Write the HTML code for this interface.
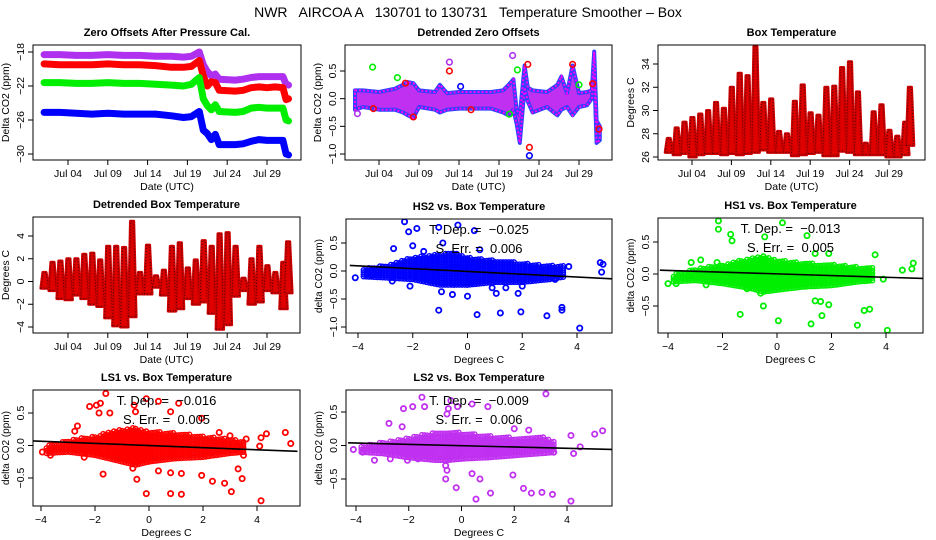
<!DOCTYPE html>
<html><head><meta charset="utf-8"><style>
html,body{margin:0;padding:0;background:#fff}
svg{display:block;font-family:"Liberation Sans",sans-serif}
text{white-space:pre}
</style></head><body>
<svg id="chart" width="936" height="540" viewBox="0 0 936 540" xmlns="http://www.w3.org/2000/svg" xml:space="preserve">
<rect width="936" height="540" fill="#fff"/>
<text x="468" y="17" text-anchor="middle" font-size="14">NWR   AIRCOA A   130701 to 130731   Temperature Smoother – Box</text>
</svg>
<script>
// ---------- DATA ----------
const timeTickDays = [4, 9, 14, 19, 24, 29];
const timeTickLabels = ["Jul 04", "Jul 09", "Jul 14", "Jul 19", "Jul 24", "Jul 29"];
const scatterTicks = [-4, -2, 0, 2, 4];
const scatterTickLabels = ["−4", "−2", "0", "2", "4"];

// Panel 1: zero offsets (day, value)
const zoDays   = [1, 3, 5, 7, 9, 11, 13, 15, 17, 18.5, 19.5, 20.5, 21, 21.5, 22, 22.5, 23, 25, 26, 27, 28, 29, 30, 31, 31.4, 31.7];
const zoPurple = [-18.3,-18.3,-18.4,-18.4,-18.3,-18.4,-18.4,-18.5,-18.5,-18.6,-18.5,-18.0,-19.5,-20.3,-20.8,-20.6,-21.2,-21.3,-21.2,-21.0,-20.9,-20.9,-20.9,-20.9,-21.8,-21.9];
const zoRed    = [-19.4,-19.5,-19.5,-19.5,-19.4,-19.5,-19.5,-19.6,-19.8,-19.8,-19.7,-19.0,-20.8,-22.0,-21.5,-21.6,-22.5,-22.6,-22.5,-22.2,-22.1,-22.2,-22.1,-22.2,-23.6,-23.5];
const zoGreen  = [-21.6,-21.6,-21.7,-21.7,-21.6,-21.7,-21.7,-21.8,-21.9,-22.0,-21.8,-21.0,-23.5,-24.3,-24.8,-24.2,-25.0,-25.1,-25.0,-24.6,-24.5,-24.6,-24.6,-24.6,-26.0,-26.1];
const zoBlue   = [-25.1,-25.1,-25.2,-25.3,-25.2,-25.3,-25.3,-25.3,-25.5,-25.7,-25.6,-25.0,-27.2,-27.6,-28.3,-27.7,-28.9,-28.9,-28.8,-28.5,-28.3,-28.4,-28.4,-28.4,-30.0,-30.1];

// Panel 2: detrended zero offsets envelope
const dzDays  = [1, 2, 4, 6, 7, 7.6, 8.3, 9, 11, 11.6, 12.5, 14, 16, 18, 19.5, 20.2, 20.8, 21.2, 21.6, 22.2, 22.6, 23.2, 25, 26.3, 26.8, 27.5, 28.2, 29, 30, 30.6, 30.9, 31.2, 31.6];
const dzUpper = [0.15,0.15,0.12,0.18,0.25,0.3,0.28,0.15,0.12,0.25,0.1,0.12,0.12,0.12,0.15,0.25,0.35,-0.2,-0.3,0.6,0.2,0.15,0.12,0.25,0.4,0.1,0.6,0.1,0.12,0.15,0.85,-0.4,-0.5];
const dzLower = [-0.2,-0.15,-0.2,-0.2,-0.25,-0.3,-0.35,-0.15,-0.2,-0.25,-0.2,-0.18,-0.18,-0.18,-0.25,-0.3,-0.2,-0.45,-0.8,0.2,-0.05,-0.25,-0.15,-0.3,-0.2,-0.15,-0.3,-0.15,-0.12,0.0,0.45,-0.8,-0.75];
const dzOutX  = [1.3, 3.2, 3.3, 8.3, 12.8, 12.8, 15.5, 20.7, 21.3, 22.6, 22.8, 22.8, 28.2, 29, 30.7, 31.5, 14.2, 6.3, 7.3, 20.3];
const dzOutY  = [-0.27, 0.57, -0.18, -0.33, 0.66, 0.5, -0.2, 0.78, 0.52, 0.62, -0.88, -1.03, 0.62, 0.25, 0.27, -0.55, 0.22, 0.38, 0.28, -0.28];
const dzOutC  = ["p","g","r","r","p","r","r","p","g","r","r","b","r","g","r","r","b","g","r","g"];

// Panel 3: box temperature daily max/min
const btDays = [1,2,3,4,5,6,7,8,9,10,11,12,13,14,15,16,17,18,19,20,21,22,23,24,25,26,27,28,29,30,31,31.6];
const btMax  = [27.6,28.5,29.0,29.4,29.7,30.0,30.7,30.2,32.0,33.2,33.0,35.5,30.7,31.0,28.2,28.0,30.8,32.2,29.8,29.6,32.0,32.1,33.7,34.2,31.6,27.2,29.9,30.5,28.3,27.8,29.0,32.0];
const btMin  = [26.4,26.2,26.3,26.0,26.2,26.3,26.3,26.2,26.3,26.2,26.3,26.4,26.6,26.4,26.4,26.4,26.1,26.2,26.3,26.4,26.1,26.1,26.5,26.4,26.2,26.2,26.2,26.2,26.0,26.0,26.2,27.0];

// Panel 4: detrended box temperature daily max/min
const dbMax = [0.8,1.7,1.8,2.0,2.0,2.4,2.5,1.9,3.1,3.1,3.0,5.3,0.8,3.2,0.5,1.0,3.1,3.4,1.2,1.9,3.6,3.1,4.2,4.3,3.1,0.3,2.0,3.1,1.4,0.8,1.7,3.5];
const dbMin = [-0.6,-0.8,-1.5,-1.6,-1.2,-1.5,-2.0,-2.2,-3.2,-3.9,-4.0,-3.1,-1.1,-1.1,-0.5,-1.2,-2.6,-2.4,-1.5,-2.0,-1.8,-2.8,-4.2,-3.8,-1.3,-0.8,-2.0,-1.8,-0.8,-1.0,-2.4,-1.0];

// Scatter core envelopes (shared bins of temperature)
const coreX = [-3.8, -3, -2, -1, -0.5, 0, 1, 2, 3, 3.6];
const hs2Lo = [-0.1,-0.12,-0.15,-0.25,-0.25,-0.25,-0.2,-0.2,-0.15,-0.1];
const hs2Hi = [0.05,0.1,0.25,0.3,0.35,0.25,0.2,0.15,0.1,0.1];
const hs1Lo = [-0.12,-0.1,-0.15,-0.22,-0.28,-0.25,-0.2,-0.18,-0.12,-0.1];
const hs1Hi = [0.0,0.08,0.15,0.25,0.28,0.22,0.18,0.15,0.12,0.1];
const ls1Lo = [-0.12,-0.1,-0.15,-0.25,-0.3,-0.25,-0.2,-0.18,-0.12,-0.1];
const ls1Hi = [0.0,0.08,0.15,0.25,0.28,0.22,0.2,0.15,0.1,0.08];
const ls2Lo = [-0.1,-0.12,-0.18,-0.22,-0.22,-0.2,-0.18,-0.15,-0.12,-0.1];
const ls2Hi = [0.0,0.05,0.12,0.2,0.22,0.2,0.15,0.12,0.15,0.05];

// Scatter outliers
const hs2X = [-2.3,-2.15,-1.85,-1.05,-0.35,0.25,0.45,-0.9,-2,-2.7,-0.95,-0.55,0,1.05,-1.05,0.35,1.2,1.95,2.9,3.45,3.45,4.1,4.85,4.95,4.9,-4.1,-3.5,-2.75,-2.1,1.85,3.2,0.9,1.4,2,3.7,-1.6];
const hs2Y = [0.88,0.7,0.76,0.78,0.82,0.72,0.38,0.5,0.45,0.4,-0.37,-0.42,-0.45,-0.4,-0.7,-0.78,-0.75,-0.73,-0.8,-0.65,-0.7,-1.02,0.15,0.12,-0.02,-0.12,-0.08,-0.18,-0.27,-0.4,-0.15,-0.3,-0.3,-0.27,0.08,0.35];
const hs1X = [-2.15,-2.15,0.2,-1.7,-1.65,-0.45,1.1,-2.2,-3.15,-2.8,1.4,1.9,3.6,5,4.95,4.6,-4,-3.7,-2.6,-1.1,-0.6,-0.5,-1.35,0.05,1.4,1.6,1.65,1.9,1.25,2.95,3.2,3.4,4.05,3.9,3.3,2.5];
const hs1Y = [0.83,0.7,0.8,0.62,0.52,0.58,0.6,0.18,0.18,0.22,0.32,0.32,0.3,0.17,0.08,0.06,-0.15,-0.15,-0.17,-0.23,-0.3,-0.5,-0.63,-0.73,-0.42,-0.43,-0.65,-0.48,-0.78,-0.8,-0.57,-0.55,-0.88,-0.08,-0.1,0.07];
const ls1X = [-1.6,-1.95,-2.2,-1.8,-1.45,-1.85,-0.55,-0.5,0.35,0.8,1.1,-0.1,1.95,-2.65,-2.75,5.05,5.25,4.35,4.15,4.1,3.5,3.6,-3.95,-3.65,-2.4,-1.7,-0.45,-0.6,0.35,0.8,1.2,1.95,2.35,2.8,3.3,3.45,3.05,-0.1,0.8,1.2,4.15,2.6,3];
const ls1Y = [0.8,0.62,0.6,0.65,0.5,0.5,0.62,0.52,0.68,0.52,0.65,0.72,0.42,0.3,0.22,0.2,0.03,0.18,0.12,-0.01,-0.15,0.1,-0.1,-0.15,-0.18,-0.44,-0.52,-0.35,-0.39,-0.42,-0.43,-0.46,-0.55,-0.58,-0.36,-0.51,-0.71,-0.74,-0.74,-0.75,-0.85,0.2,0.15];
const ls2X = [3.2,-1.5,-0.4,0.4,1,-0.15,-1.4,-1.85,-2.2,-0.5,-0.55,-2.75,-2.25,5.35,5.05,4.15,4.5,4.25,3.5,-4.1,-3.75,-3.3,-2.7,-2.05,-1.65,-0.6,-0.55,-0.6,0.4,0.7,-0.2,0.55,1.1,1.95,2.35,2.65,3.05,3.45,4.15,2.55,2];
const ls2Y = [0.77,0.72,0.67,0.62,0.58,0.58,0.58,0.58,0.55,0.55,0.47,0.33,0.28,0.22,0.17,0.15,-0.02,-0.12,-0.1,-0.06,-0.1,-0.22,-0.2,-0.22,-0.2,-0.3,-0.37,-0.5,-0.42,-0.5,-0.63,-0.8,-0.71,-0.44,-0.64,-0.71,-0.7,-0.73,-0.83,0.23,0.25];

// regression lines: [x0, y0, x1, y1]
const hs2Fit = [-4.3, 0.1, 5.3, -0.14];
const hs1Fit = [-4.3, 0.06, 5.4, -0.07];
const ls1Fit = [-4.3, 0.07, 5.5, -0.09];
const ls2Fit = [-4.3, 0.04, 5.8, -0.06];
const hs2Stats = ["−0.025", "0.006"];
const hs1Stats = ["−0.013", "0.005"];
const ls1Stats = ["−0.016", "0.005"];
const ls2Stats = ["−0.009", "0.006"];

// ---------- DRAWING ----------
const NS = "http://www.w3.org/2000/svg";
const svg = document.getElementById("chart");
const COL = {b:"#0000ff", r:"#ff0000", g:"#00ee00", p:"#b030f0"};
function mk(tag, attrs, parent) {
  const e = document.createElementNS(NS, tag);
  for (const k in attrs) e.setAttribute(k, attrs[k]);
  (parent || svg).appendChild(e);
  return e;
}
function lin(v1, p1, v2, p2) { return v => p1 + (v - v1) * (p2 - p1) / (v2 - v1); }

function panel(cfg) {
  const g = mk("g", {});
  
  
  const X = lin(...cfg.xm), Y = lin(...cfg.ym);
  const clip = mk("clipPath", {id: cfg.name + "-clip"}, g);
  mk("rect", {x: cfg.L, y: cfg.T, width: cfg.R - cfg.L, height: cfg.B - cfg.T}, clip);
  const plot = mk("g", {"clip-path": "url(#" + cfg.name + "-clip)"}, g);
  
  
  const box = mk("rect", {x: cfg.L, y: cfg.T, width: cfg.R - cfg.L, height: cfg.B - cfg.T, fill: "none", stroke: "#000", "stroke-width": 1});
  
  
  const t = mk("text", {x: (cfg.L + cfg.R) / 2, y: cfg.T - 9, "text-anchor": "middle", "font-size": 11, "font-weight": "bold"}, g);
  t.textContent = cfg.title;
  
  
  const xa = mk("g", {}, g);
  
  
  mk("line", {x1: X(cfg.xt[0]), x2: X(cfg.xt[cfg.xt.length - 1]), y1: cfg.B, y2: cfg.B, stroke: "#000"}, xa);
  cfg.xt.forEach((v, i) => {
    mk("line", {x1: X(v), x2: X(v), y1: cfg.B, y2: cfg.B + 5, stroke: "#000"}, xa);
    const tl = mk("text", {x: X(v), y: cfg.B + 17, "text-anchor": "middle", "font-size": 10.5}, xa);
    tl.textContent = cfg.xl[i];
    
    
  });
  const xt = mk("text", {x: (cfg.L + cfg.R) / 2, y: cfg.B + 30, "text-anchor": "middle", "font-size": 10.5}, g);
  xt.textContent = cfg.xlab;
  
  
  const ya = mk("g", {}, g);
  
  
  mk("line", {x1: cfg.L, x2: cfg.L, y1: Y(cfg.yt[0]), y2: Y(cfg.yt[cfg.yt.length - 1]), stroke: "#000"}, ya);
  cfg.yt.forEach((v, i) => {
    mk("line", {x1: cfg.L - 5, x2: cfg.L, y1: Y(v), y2: Y(v), stroke: "#000"}, ya);
    const tx = cfg.L - 9, ty = Y(v);
    const tl = mk("text", {x: tx, y: ty, "text-anchor": "middle", "font-size": 10.5, transform: `rotate(-90 ${tx} ${ty})`}, ya);
    tl.textContent = cfg.yl[i];
    
    
  });
  const yx = cfg.L - 24, yy = (cfg.T + cfg.B) / 2;
  const yt = mk("text", {x: yx, y: yy, "text-anchor": "middle", "font-size": cfg.ylabSize || 10.5, transform: `rotate(-90 ${yx} ${yy})`}, g);
  yt.textContent = cfg.ylab;
  
  
  return {g, plot, X, Y, cfg};
}

function pts(xs, ys, X, Y) { return xs.map((x, i) => X(x).toFixed(1) + "," + Y(ys[i]).toFixed(1)).join(" "); }

// ---- Panel 1
(function () {
  const P = panel({name: "zero-offsets-panel", L: 33, R: 301, T: 45, B: 160, xm: [4, 68, 29, 267], ym: [-18, 52, -30, 154],
    xt: timeTickDays, xl: timeTickLabels, yt: [-18, -22, -26, -30], yl: ["−18", "−22", "−26", "−30"],
    title: "Zero Offsets After Pressure Cal.", xlab: "Date (UTC)", ylab: "Delta CO2 (ppm)"});
  [[zoPurple, "p", "series-ls2"], [zoRed, "r", "series-ls1"], [zoGreen, "g", "series-hs1"], [zoBlue, "b", "series-hs2"]].forEach(([arr, c, nm]) => {
    const l = mk("polyline", {points: pts(zoDays, arr, P.X, P.Y), fill: "none", stroke: COL[c], "stroke-width": 7, "stroke-linejoin": "round", "stroke-linecap": "round"}, P.plot);
    
    
  });
})();

// ---- Panel 2
(function () {
  const P = panel({name: "detrended-zero-offsets-panel", L: 345, R: 612, T: 45, B: 160, xm: [4, 379, 29, 579], ym: [0.5, 71, -1.0, 154],
    xt: timeTickDays, xl: timeTickLabels, yt: [0.5, 0, -0.5, -1.0], yl: ["0.5", "0.0", "−0.5", "−1.0"],
    title: "Detrended Zero Offsets", xlab: "Date (UTC)", ylab: "Delta CO2 (ppm)"});
  const up = dzDays.map((d, i) => P.X(d).toFixed(1) + "," + P.Y(dzUpper[i]).toFixed(1));
  const lo = dzDays.map((d, i) => P.X(d).toFixed(1) + "," + P.Y(dzLower[i]).toFixed(1)).reverse();
  const band = mk("polygon", {points: up.concat(lo).join(" "), fill: "#c030f0", stroke: "#3040ff", "stroke-width": 4, "stroke-linejoin": "round"}, P.plot);
  
  
  mk("polygon", {points: up.concat(lo).join(" "), fill: "none", stroke: "#ff00ff", "stroke-width": 2, "stroke-dasharray": "2 2"}, P.plot);
  dzOutX.forEach((d, i) => {
    const c = mk("circle", {cx: P.X(d), cy: P.Y(dzOutY[i]), r: 2.8, fill: "none", stroke: COL[dzOutC[i]], "stroke-width": 1.6}, P.plot);
    
    
  });
})();

// ---- temperature column panels
function columns(P, mins, maxs, name) {
  const grp = mk("g", {}, P.plot);
  
  
  btDays.forEach((d, i) => {
    const xs = [d - 0.4, d - 0.15, d + 0.25, d + 0.55];
    const ys = [mins[i], maxs[i], maxs[i], mins[i]];
    const c = mk("polygon", {points: pts(xs, ys, P.X, P.Y), fill: "#e00000", stroke: "#d00000", "stroke-width": 3, "stroke-linejoin": "round"}, grp);
    
    
    mk("polygon", {points: pts(xs, ys, P.X, P.Y), fill: "none", stroke: "#500", "stroke-width": 1, "stroke-dasharray": "1 2"}, grp);
  });
}
(function () {
  const P = panel({name: "box-temperature-panel", L: 658, R: 925, T: 45, B: 160, xm: [4, 692, 29, 889], ym: [26, 157, 34, 64],
    xt: timeTickDays, xl: timeTickLabels, yt: [26, 28, 30, 32, 34], yl: ["26", "28", "30", "32", "34"],
    title: "Box Temperature", xlab: "Date (UTC)", ylab: "Degrees C"});
  columns(P, btMin, btMax, "box-temperature-series");
})();
(function () {
  const P = panel({name: "detrended-box-temperature-panel", L: 33, R: 300, T: 217, B: 333, xm: [4, 68, 29, 267], ym: [4, 236, -4, 327],
    xt: timeTickDays, xl: timeTickLabels, yt: [-4, -2, 0, 2, 4], yl: ["−4", "−2", "0", "2", "4"],
    title: "Detrended Box Temperature", xlab: "Date (UTC)", ylab: "Degrees C"});
  columns(P, dbMin, dbMax, "detrended-box-temperature-series");
})();

// ---- scatter panels
function scatter(cfg, lo, hi, ox, oy, fit, stats, color) {
  const P = panel(Object.assign({xt: scatterTicks, xl: scatterTickLabels, xlab: "Degrees C", ylab: "delta CO2 (ppm)", ylabSize: 10}, cfg));
  const core = mk("g", {}, P.plot);
  
  
  for (let i = 0; i < coreX.length - 1; i++) {
    for (let x = coreX[i]; x < coreX[i + 1]; x += 0.1) {
      const f = (x - coreX[i]) / (coreX[i + 1] - coreX[i]);
      const yl = lo[i] + f * (lo[i + 1] - lo[i]), yh = hi[i] + f * (hi[i + 1] - hi[i]);
      for (let y = yl; y <= yh; y += 0.04) {
        mk("circle", {cx: P.X(x).toFixed(1), cy: P.Y(y).toFixed(1), r: 2.2, fill: "none", stroke: color, "stroke-width": 1.4}, core);
      }
    }
  }
  ox.forEach((x, i) => {
    const c = mk("circle", {cx: P.X(x), cy: P.Y(oy[i]), r: 2.6, fill: "none", stroke: color, "stroke-width": 1.8}, P.plot);
    
    
  });
  const l = mk("line", {x1: P.X(fit[0]), y1: P.Y(fit[1]), x2: P.X(fit[2]), y2: P.Y(fit[3]), stroke: "#000", "stroke-width": 1.6}, P.plot);
  
  
  const cx = (cfg.L + cfg.R) / 2;
  const t1 = mk("text", {x: cx, y: cfg.T + 15, "text-anchor": "middle", "font-size": 13}, P.g);
  t1.textContent = "T. Dep. =  " + stats[0];
  
  
  const t2 = mk("text", {x: cx, y: cfg.T + 34, "text-anchor": "middle", "font-size": 13}, P.g);
  t2.textContent = "S. Err. =  " + stats[1];
  
  
}
scatter({name: "hs2-scatter-panel", L: 346, R: 612, T: 219, B: 333, xm: [-4, 358, 4, 577], ym: [0.5, 243, -1.0, 327],
  yt: [0.5, 0, -0.5, -1.0], yl: ["0.5", "0.0", "−0.5", "−1.0"], title: "HS2 vs. Box Temperature"},
  hs2Lo, hs2Hi, hs2X, hs2Y, hs2Fit, hs2Stats, "#0000ff");
scatter({name: "hs1-scatter-panel", L: 658, R: 923, T: 218, B: 333, xm: [-4, 668, 4, 886], ym: [0.5, 242, -0.5, 306],
  yt: [0.5, 0, -0.5], yl: ["0.5", "0.0", "−0.5"], title: "HS1 vs. Box Temperature"},
  hs1Lo, hs1Hi, hs1X, hs1Y, hs1Fit, hs1Stats, "#00ee00");
scatter({name: "ls1-scatter-panel", L: 33, R: 300, T: 390, B: 506, xm: [-4, 41, 4, 257], ym: [0.5, 413, -0.5, 478],
  yt: [0.5, 0, -0.5], yl: ["0.5", "0.0", "−0.5"], title: "LS1 vs. Box Temperature"},
  ls1Lo, ls1Hi, ls1X, ls1Y, ls1Fit, ls1Stats, "#ff0000");
scatter({name: "ls2-scatter-panel", L: 346, R: 612, T: 390, B: 506, xm: [-4, 356, 4, 567], ym: [0.5, 412, -0.5, 479],
  yt: [0.5, 0, -0.5], yl: ["0.5", "0.0", "−0.5"], title: "LS2 vs. Box Temperature"},
  ls2Lo, ls2Hi, ls2X, ls2Y, ls2Fit, ls2Stats, "#c030f0");
</script>
</body></html>
